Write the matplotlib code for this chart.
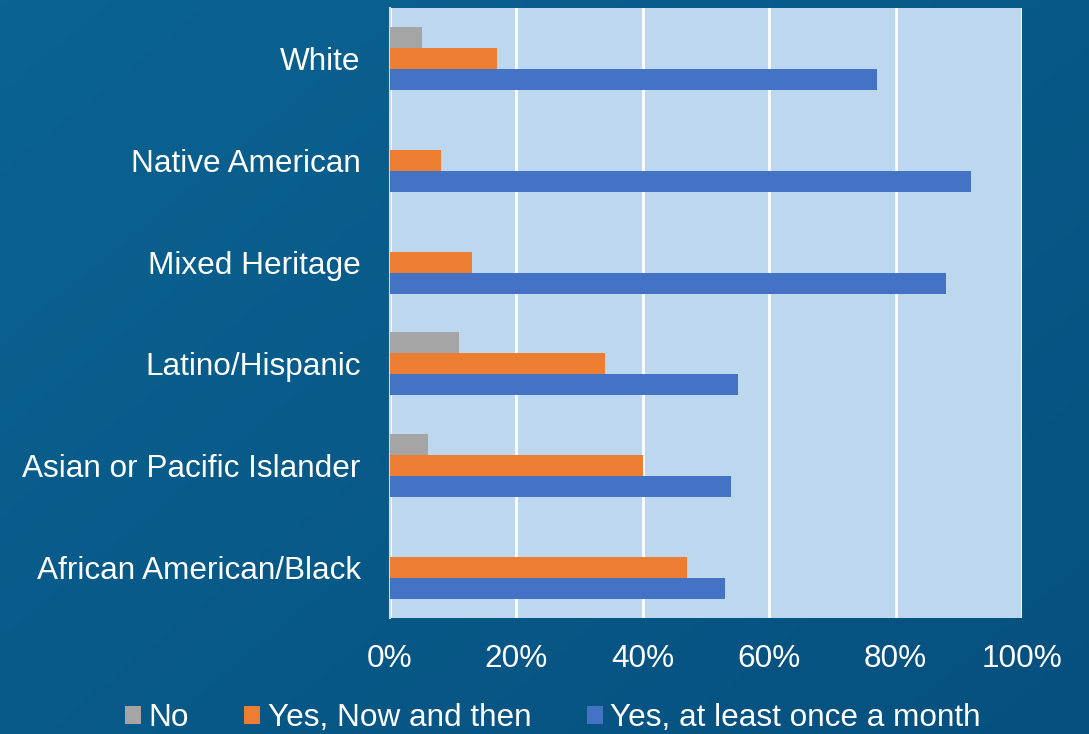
import numpy as np
import matplotlib.pyplot as plt
from matplotlib.colors import LinearSegmentedColormap

categories = ["African American/Black", "Asian or Pacific Islander", "Latino/Hispanic",
              "Mixed Heritage", "Native American", "White"]
no_vals = [0, 6, 11, 0, 0, 5]
now_then = [47, 40, 34, 13, 8, 17]
monthly = [53, 54, 55, 88, 92, 77]
series_names = ["No", "Yes, Now and then", "Yes, at least once a month"]
colors = ["#A5A5A5", "#ED7D31", "#4472C4"]
xticks = [0, 20, 40, 60, 80, 100]

plt.rcParams["font.family"] = ["Liberation Sans", "DejaVu Sans"]
fs = 22.7

fig = plt.figure(figsize=(10.89, 7.34), dpi=100)

# background gradient
bg = fig.add_axes([0, 0, 1, 1])
yy, xx = np.mgrid[0:1:200j, 0:1:300j]
grad = 0.55 * xx + 0.45 * yy
bg.imshow(grad, cmap=LinearSegmentedColormap.from_list("bgc", ["#0A6391", "#06507F"]),
          aspect="auto", extent=[0, 1, 0, 1])
bg.axis("off")

ax = fig.add_axes([0.3581, 0.158, 0.5804, 0.831])
ax.set_facecolor("#BDD7EE")

y = np.arange(len(categories))
h = 0.207
ax.barh(y + h, no_vals, height=h, color=colors[0], label=series_names[0], zorder=3)
ax.barh(y, now_then, height=h, color=colors[1], label=series_names[1], zorder=3)
ax.barh(y - h, monthly, height=h, color=colors[2], label=series_names[2], zorder=3)

ax.set_xlim(0, 100)
ax.set_ylim(-0.5, len(categories) - 0.5)
ax.set_xticks(xticks)
ax.set_xticklabels([f"{t}%" for t in xticks])
ax.set_yticks(y)
ax.set_yticklabels(categories)
ax.grid(axis="x", color="white", linewidth=2, zorder=1)
for s in ["top", "right", "bottom"]:
    ax.spines[s].set_visible(False)
ax.spines["left"].set_color("#D9D9D9")
ax.spines["left"].set_linewidth(1.5)
ax.tick_params(axis="both", length=0, labelcolor="white", labelsize=fs)
ax.tick_params(axis="x", pad=19)
ax.tick_params(axis="y", pad=21)

handles, labels = ax.get_legend_handles_labels()
fig.legend(handles, labels, loc="center", bbox_to_anchor=(553 / 1089, 1 - 718 / 734),
           ncol=3, frameon=False, fontsize=fs, labelcolor="white",
           handlelength=0.5, handleheight=0.5, handletextpad=0.25,
           columnspacing=1.75, borderpad=0)

fig.savefig("out.png", dpi=100)
